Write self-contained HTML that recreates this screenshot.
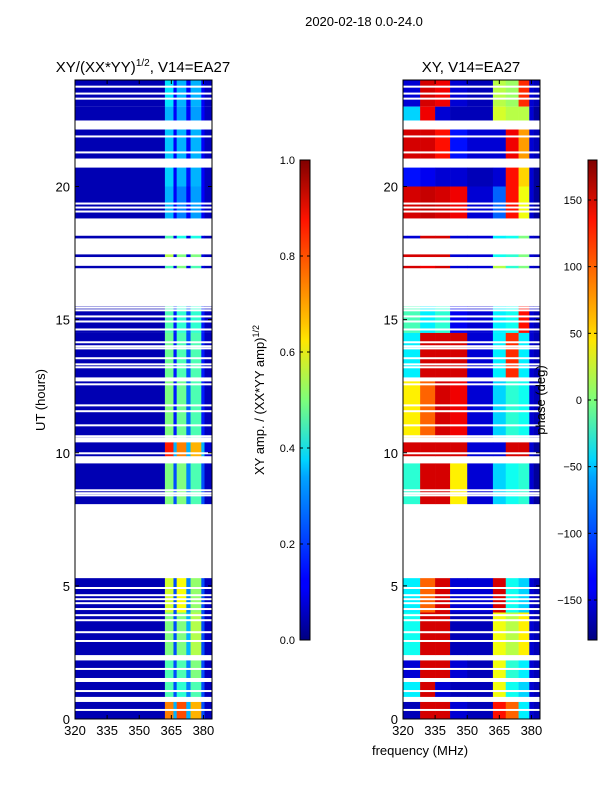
<!DOCTYPE html>
<html><head><meta charset="utf-8">
<style>
html,body{margin:0;padding:0;background:#fff;}
svg{display:block;font-family:"Liberation Sans","DejaVu Sans",sans-serif;}
</style></head>
<body>
<svg id="fig" width="600" height="800" viewBox="0 0 600 800" xmlns="http://www.w3.org/2000/svg">
<defs>
<linearGradient id="jet" x1="0" y1="1" x2="0" y2="0">
<stop offset="0" stop-color="#000080"/>
<stop offset="0.11" stop-color="#0000ff"/>
<stop offset="0.125" stop-color="#0000ff"/>
<stop offset="0.34" stop-color="#00a4ff"/>
<stop offset="0.375" stop-color="#00d4ff"/>
<stop offset="0.5" stop-color="#7dff7a"/>
<stop offset="0.625" stop-color="#ffe600"/>
<stop offset="0.66" stop-color="#ffc400"/>
<stop offset="0.875" stop-color="#ff1300"/>
<stop offset="1" stop-color="#800000"/>
</linearGradient>
</defs>
<text x="364" y="26" font-size="13" text-anchor="middle">2020-02-18 0.0-24.0</text>
<text x="143" y="72" font-size="15" text-anchor="middle">XY/(XX*YY)<tspan font-size="10" dy="-6">1/2</tspan><tspan dy="6">, V14=EA27</tspan></text>
<text x="471" y="72" font-size="15" text-anchor="middle">XY, V14=EA27</text>
<text x="420" y="755" font-size="13" text-anchor="middle">frequency (MHz)</text>
<text transform="translate(45,400) rotate(-90)" font-size="13" text-anchor="middle">UT (hours)</text>
<g id="ampPanel"></g>
<g id="phasePanel"></g>
<g id="axes"></g>
<rect x="300" y="160" width="10" height="480" fill="url(#jet)" stroke="#000" stroke-width="1"/>
<rect x="588" y="160" width="9" height="480" fill="url(#jet)" stroke="#000" stroke-width="1"/>
<g id="cbticks"></g>
<text transform="translate(264,400) rotate(-90)" font-size="13" text-anchor="middle">XY amp. / (XX*YY amp)<tspan font-size="9" dy="-5">1/2</tspan></text>
<text transform="translate(545,400) rotate(-90)" font-size="13" text-anchor="middle">phase (deg)</text>
</svg>
<script>
// ---- data ----
const blocks = [[23.0,24.0],[22.48,23.0],[21.05,22.14],[20.0,20.71],[18.8,20.0],[18.05,18.15],[17.35,17.45],[16.93,17.02],[14.5,15.5],[12.83,14.5],[10.58,12.68],[9.87,10.39],[8.07,9.6],[4.0,5.29],[2.4,4.0],[1.54,2.2],[0.83,1.39],[0.0,0.64]];
const ampEdges = [320,362,366,367.5,372,374,379,380.5,384];
const ampValues = [
[0.05,0.35,0.12,0.3,0.12,0.3,0.12,0.06],
[0.05,0.3,0.12,0.28,0.12,0.28,0.12,0.06],
[0.05,0.32,0.12,0.3,0.12,0.3,0.12,0.06],
[0.05,0.33,0.12,0.3,0.14,0.3,0.12,0.06],
[0.05,0.3,0.12,0.25,0.12,0.28,0.12,0.06],
[0.05,0.45,0.1,0.4,0.1,0.4,0.1,0.05],
[0.05,0.55,0.1,0.5,0.1,0.5,0.1,0.05],
[0.05,0.45,0.1,0.5,0.1,0.45,0.1,0.05],
[0.05,0.45,0.15,0.42,0.2,0.42,0.15,0.06],
[0.05,0.48,0.15,0.45,0.2,0.45,0.15,0.06],
[0.05,0.5,0.15,0.48,0.22,0.45,0.15,0.06],
[0.05,0.85,0.3,0.75,0.3,0.7,0.3,0.08],
[0.05,0.5,0.2,0.5,0.25,0.45,0.2,0.06],
[0.05,0.58,0.2,0.62,0.25,0.52,0.2,0.06],
[0.05,0.5,0.2,0.5,0.3,0.55,0.2,0.06],
[0.05,0.45,0.2,0.45,0.25,0.5,0.2,0.06],
[0.05,0.45,0.2,0.42,0.25,0.45,0.2,0.06],
[0.05,0.75,0.3,0.8,0.3,0.7,0.2,0.06]];
const phaseEdges = [320,328,335,342,350,362,368,374,379,381,384];
const phaseValues = [
[-150,150,140,-150,-160,20,10,120,-150,-160],
[-60,140,-150,-160,-160,30,20,20,-150,-170],
[150,150,130,-130,-150,-150,140,80,-150,-160],
[-130,-140,-150,-150,-160,-150,130,60,-150,-170],
[150,155,150,140,-150,-100,130,40,-150,-170],
[-150,150,150,-150,-150,-50,-40,0,-150,-160],
[150,150,150,-150,-150,-40,-30,0,-150,-160],
[150,140,150,-150,-150,20,-30,0,-150,-160],
[-20,-50,-30,-140,-150,-50,-40,130,-150,-160],
[-50,150,150,150,-150,-50,120,-50,-150,-160],
[50,100,150,140,-150,-60,-30,-40,-150,-160],
[150,150,150,150,-150,-150,150,150,-150,-170],
[-30,150,150,50,-150,-60,-40,-30,-150,-170],
[-50,100,150,-150,-150,150,-40,-60,-150,-160],
[-40,150,150,-160,-160,40,20,50,-150,-160],
[-150,150,150,-150,-160,40,-30,-50,-150,-160],
[-50,150,-150,-160,-160,40,-40,-60,-150,-160],
[-160,150,150,-150,-160,130,100,-50,-150,-160]];
const thinGaps = [23.75,23.49,23.3,21.88,21.28,19.36,19.21,19.06,15.45,15.35,15.12,14.93,14.63,14.15,14.0,13.92,13.55,13.32,13.21,12.57,11.78,11.56,11.03,10.62,9.98,8.59,8.48,8.4,4.92,4.65,4.5,4.35,4.13,3.9,3.71,3.26,2.93,1.88,1.05,0.34];
const xTicks = [320,335,350,365,380];
const yTicks = [0,5,10,15,20];
const ampCbTicks = [0.0,0.2,0.4,0.6,0.8,1.0];
const phaseCbTicks = [-150,-100,-50,0,50,100,150];

// ---- helpers ----
const NS="http://www.w3.org/2000/svg";
const Y0=719, Y1=80;
function yScale(h){return Y0-(h/24)*(Y0-Y1);}
function xScale(left){return f=>left+(f-320)/(384-320)*137;}
function jet(v){
  v=Math.max(0,Math.min(1,v));
  const r=Math.max(0,Math.min(1,1.5-Math.abs(4*v-3)));
  const g=Math.max(0,Math.min(1,1.5-Math.abs(4*v-2)));
  const b=Math.max(0,Math.min(1,1.5-Math.abs(4*v-1)));
  return `rgb(${Math.round(r*255)},${Math.round(g*255)},${Math.round(b*255)})`;
}
function mk(tag,parent,attrs){const e=document.createElementNS(NS,tag);for(const k in attrs)e.setAttribute(k,attrs[k]);parent.appendChild(e);return e;}

function drawPanel(gid,left,edges,values,norm,label){
  const g=document.getElementById(gid);
  const xs=xScale(left);
  blocks.forEach((b,i)=>{
    const yt=yScale(b[1]), yb=yScale(b[0]);
    for(let j=0;j<edges.length-1;j++){
      const x0=xs(edges[j]), x1=xs(edges[j+1]);
      const r=mk('rect',g,{x:x0.toFixed(2),y:yt.toFixed(2),width:(x1-x0+0.3).toFixed(2),height:Math.max(1.2,yb-yt).toFixed(2),fill:jet(norm(values[i][j]))});
      
      
    }
  });
  thinGaps.forEach(h=>{
    const r=mk('rect',g,{x:left,y:(yScale(h)-1).toFixed(2),width:137,height:2,fill:'#fff'});
    
    
  });
}
drawPanel('ampPanel',75,ampEdges,ampValues,v=>v,'amp');
drawPanel('phasePanel',403,phaseEdges,phaseValues,v=>(v+180)/360,'phase');

const ax=document.getElementById('axes');
[75,403].forEach((left,pi)=>{
  const fr=mk('rect',ax,{x:left,y:Y1,width:137,height:Y0-Y1,fill:'none',stroke:'#000','stroke-width':1});
  
  
  const xs=xScale(left);
  xTicks.forEach(t=>{
    const x=xs(t);
    mk('line',ax,{x1:x,y1:Y0,x2:x,y2:Y0-4,stroke:'#000'});
    mk('line',ax,{x1:x,y1:Y1,x2:x,y2:Y1+4,stroke:'#000'});
    const tx=mk('text',ax,{x:x,y:Y0+16,'font-size':13,'text-anchor':'middle'});
    tx.textContent=t;
    
    
  });
  yTicks.forEach(t=>{
    const y=yScale(t);
    mk('line',ax,{x1:left,y1:y,x2:left+4,y2:y,stroke:'#000'});
    mk('line',ax,{x1:left+137,y1:y,x2:left+133,y2:y,stroke:'#000'});
    const tx=mk('text',ax,{x:left-5,y:y+5,'font-size':13,'text-anchor':'end'});
    tx.textContent=t;
    
    
  });
});
const cb=document.getElementById('cbticks');
ampCbTicks.forEach(t=>{
  const y=640-t*480;
  mk('line',cb,{x1:300,y1:y,x2:303,y2:y,stroke:'#000'});
  mk('line',cb,{x1:310,y1:y,x2:307,y2:y,stroke:'#000'});
  const tx=mk('text',cb,{x:295,y:y+4,'font-size':11,'text-anchor':'end'});
  tx.textContent=t.toFixed(1);
  
  
});
phaseCbTicks.forEach(t=>{
  const y=640-(t+180)/360*480;
  mk('line',cb,{x1:588,y1:y,x2:591,y2:y,stroke:'#000'});
  mk('line',cb,{x1:597,y1:y,x2:594,y2:y,stroke:'#000'});
  const tx=mk('text',cb,{x:582,y:y+4,'font-size':11,'text-anchor':'end'});
  tx.textContent=(t<0?'\u2212'+Math.abs(t):String(t));
  
  
});
</script>
</body></html>
